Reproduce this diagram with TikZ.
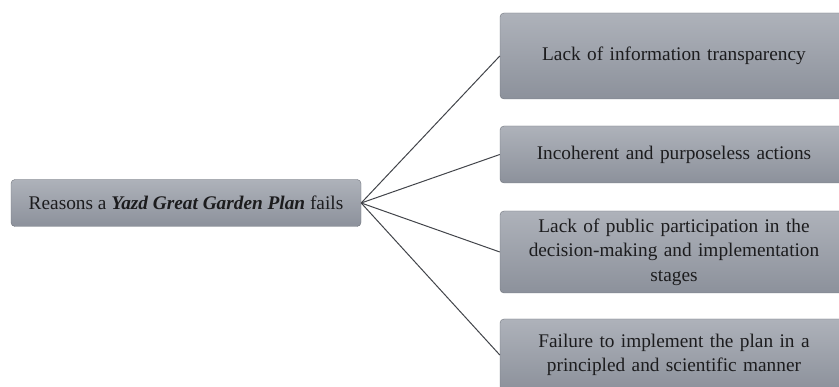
\documentclass[tikz,border=0pt]{standalone}
\usepackage{fontspec}
\setmainfont{Liberation Serif}
\usepackage{tikz}
\usetikzlibrary{positioning, shapes, calc}
\definecolor{boxtop}{RGB}{174, 178, 186}
\definecolor{boxbottom}{RGB}{140, 145, 155}
\definecolor{boxedge}{RGB}{112, 116, 124}
\definecolor{linkgray}{RGB}{66, 68, 74}
\definecolor{inkgray}{RGB}{28, 28, 30}

\begin{document}
\begin{tikzpicture}[x=1pt, y=1pt,
  reason/.style={draw=boxedge, rounded corners=4pt, top color=boxtop, bottom color=boxbottom,
    text=inkgray, align=center, font=\fontsize{19.3}{24.5}\selectfont, inner sep=2pt},
  link/.style={draw=linkgray, line width=1pt}]
\useasboundingbox (0,0) rectangle (839,387);
\clip (0,0) rectangle (839,387);
\node[reason, minimum width=350pt, minimum height=47pt] (root) at (186,184) {Reasons a \textbf{\textit{Yazd Great Garden Plan}} fails};
\node[reason, minimum width=348pt, minimum height=86pt, text width=336pt] (transp) at (674,331) {Lack of information transparency};
\node[reason, minimum width=348pt, minimum height=57pt, text width=336pt] (actions) at (674,232.5) {Incoherent and purposeless actions};
\node[reason, minimum width=348pt, minimum height=82pt, text width=336pt] (public) at (674,135) {Lack of public participation in the\\decision-making and implementation\\stages};
\node[reason, minimum width=348pt, minimum height=72pt, text width=336pt] (manner) at (674,32) {Failure to implement the plan in a\\principled and scientific manner};
\draw[link] (root.east) -- (transp.west);
\draw[link] (root.east) -- (actions.west);
\draw[link] (root.east) -- (public.west);
\draw[link] (root.east) -- (manner.west);
\end{tikzpicture}
\end{document}
